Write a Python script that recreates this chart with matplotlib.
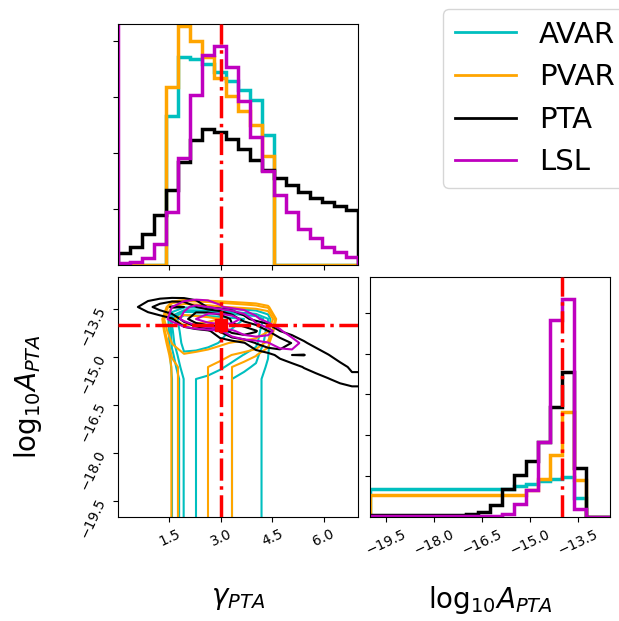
import math
import numpy as np
import matplotlib
matplotlib.use("Agg")
import matplotlib.pyplot as plt
from matplotlib.lines import Line2D

# parameter ranges, binning and injected values
gamma_range = (0.0, 7.0)
loga_range = (-20.0, -12.5)
nbins = 20
gamma_true = 3.0
loga_true = -14.0

labels = ["AVAR", "PVAR", "PTA", "LSL"]
colors = ["c", "orange", "k", "m"]

# 1D marginal histograms (gamma_PTA), one value per bin
gamma_avar = [0, 0, 0, 0, 2.66, 3.72, 3.69, 3.60, 3.46, 3.29, 3.13, 2.95, 2.32, 0, 0, 0, 0, 0, 0, 0]
gamma_pvar = [0, 0, 0, 0, 3.18, 4.27, 4.00, 3.72, 3.35, 3.02, 2.75, 2.50, 1.95, 0, 0, 0, 0, 0, 0, 0]
gamma_pta = [0.22, 0.33, 0.55, 0.89, 1.34, 1.85, 2.23, 2.44, 2.38, 2.26,
             2.08, 1.88, 1.70, 1.55, 1.43, 1.31, 1.20, 1.13, 1.06, 0.99]
gamma_lsl = [0.03, 0.06, 0.13, 0.37, 0.95, 1.92, 3.04, 3.76, 3.92, 3.55,
             2.93, 2.29, 1.68, 1.25, 0.95, 0.65, 0.49, 0.33, 0.24, 0.15]

# 1D marginal histograms (log10 A_PTA)
loga_avar = [0.69] * 12 + [0.75, 0.81, 0.89, 0.93, 0.99, 0.47, 0, 0]
loga_pvar = [0.53] * 13 + [0.65, 0.93, 1.52, 2.58, 0.91, 0, 0]
loga_pta = [0.04] * 8 + [0.08, 0.12, 0.30, 0.68, 1.02, 1.36, 1.83, 2.70, 3.56, 1.20, 0, 0]
loga_lsl = [0.02] * 11 + [0.08, 0.33, 0.67, 1.83, 4.81, 5.34, 0.20, 0, 0]

# ridge of the correlated 2D posteriors: (gamma, log10 A) points and spread in log10 A
pta_ridge_gamma = [1.5, 3.0, 7.0]
pta_ridge_loga = [-13.50, -13.92, -15.80]
pta_width_gamma = [1.5, 3.0, 7.0]
pta_width = [0.11, 0.15, 0.45]
lsl_ridge_gamma = [1.5, 3.0, 5.5]
lsl_ridge_loga = [-13.65, -13.80, -14.85]
lsl_width_gamma = [1.5, 3.0, 5.5]
lsl_width = [0.15, 0.15, 0.18]

gamma_ticks = [1.5, 3.0, 4.5, 6.0]
loga_ticks = [-19.5, -18.0, -16.5, -15.0, -13.5]

g_edges = np.linspace(*gamma_range, nbins + 1)
a_edges = np.linspace(*loga_range, nbins + 1)
g_cent = 0.5 * (g_edges[1:] + g_edges[:-1])
a_cent = 0.5 * (a_edges[1:] + a_edges[:-1])

erf = np.vectorize(math.erf)


def ridge_hist(hg, rg, ra, wg, w):
    # gamma marginal times a gaussian in log10 A centred on the ridge
    m = np.polyval(np.polyfit(rg, ra, len(rg) - 1), g_cent)
    s = np.polyval(np.polyfit(wg, w, len(wg) - 1), g_cent)
    s = np.clip(s, 0.08, None)
    cdf = 0.5 * (1 + erf((a_edges[None, :] - m[:, None]) / (np.sqrt(2) * s[:, None])))
    return np.asarray(hg)[:, None] * np.diff(cdf, axis=1)


def band_hist(hg, ha):
    return np.outer(hg, ha)


def contour2d(ax, H, color):
    levels = 1.0 - np.exp(-0.5 * np.arange(0.5, 2.1, 0.5) ** 2)
    Hflat = np.sort(H.flatten())[::-1]
    sm = np.cumsum(Hflat)
    sm /= sm[-1]
    V = np.empty(len(levels))
    for i, v0 in enumerate(levels):
        try:
            V[i] = Hflat[sm <= v0][-1]
        except IndexError:
            V[i] = Hflat[0]
    V.sort()
    m = np.diff(V) == 0
    while np.any(m):
        V[np.where(m)[0][0]] *= 1.0 - 1e-4
        m = np.diff(V) == 0
    V *= 1.0 + 1e-6

    # pad the grid the way corner does so contours run off the edges
    H2 = H.min() + np.zeros((H.shape[0] + 4, H.shape[1] + 4))
    H2[2:-2, 2:-2] = H
    H2[2:-2, 1] = H[:, 0]
    H2[2:-2, -2] = H[:, -1]
    H2[1, 2:-2] = H[0]
    H2[-2, 2:-2] = H[-1]
    H2[1, 1] = H[0, 0]
    H2[1, -2] = H[0, -1]
    H2[-2, 1] = H[-1, 0]
    H2[-2, -2] = H[-1, -1]
    dg = g_cent[1] - g_cent[0]
    da = a_cent[1] - a_cent[0]
    X2 = np.concatenate([g_cent[0] + np.array([-2, -1]) * dg, g_cent, g_cent[-1] + np.array([1, 2]) * dg])
    Y2 = np.concatenate([a_cent[0] + np.array([-2, -1]) * da, a_cent, a_cent[-1] + np.array([1, 2]) * da])
    ax.contour(X2, Y2, H2.T, V, colors=color, linewidths=1.5)


hists_2d = [
    band_hist(gamma_avar, loga_avar),
    band_hist(gamma_pvar, loga_pvar),
    ridge_hist(gamma_pta, pta_ridge_gamma, pta_ridge_loga, pta_width_gamma, pta_width),
    ridge_hist(gamma_lsl, lsl_ridge_gamma, lsl_ridge_loga, lsl_width_gamma, lsl_width),
]
gamma_hists = [gamma_avar, gamma_pvar, gamma_pta, gamma_lsl]
loga_hists = [loga_avar, loga_pvar, loga_pta, loga_lsl]

fig = plt.figure(figsize=(6.19, 6.21), dpi=100)
W, Hpx = 619, 621
ax_g = fig.add_axes([118 / W, (Hpx - 265) / Hpx, 240 / W, 241 / Hpx])
ax_2d = fig.add_axes([118 / W, (Hpx - 517) / Hpx, 240 / W, 240 / Hpx])
ax_a = fig.add_axes([370 / W, (Hpx - 517) / Hpx, 240 / W, 240 / Hpx])

for hg, ha, H, c in zip(gamma_hists, loga_hists, hists_2d, colors):
    ax_g.stairs(hg, g_edges, color=c, lw=2.5)
    ax_a.stairs(ha, a_edges, color=c, lw=2.5)
    contour2d(ax_2d, H, c)

# LSL step edge running up the lower gamma bound
ax_g.axvline(gamma_range[0], color="m", lw=2.5)

truth = dict(color="r", ls="-.", lw=2.5, zorder=5)
ax_g.axvline(gamma_true, **truth)
ax_2d.axvline(gamma_true, **truth)
ax_2d.axhline(loga_true, **truth)
ax_2d.plot(gamma_true, loga_true, "s", color="r", ms=8, zorder=6)
ax_a.axvline(loga_true, **truth)

ax_g.set_xlim(*gamma_range)
ax_g.set_ylim(0, 1.1 * max(gamma_lsl))
ax_g.set_xticks(gamma_ticks)
ax_g.set_xticklabels([])
ax_g.set_yticks([1, 2, 3, 4])
ax_g.set_yticklabels([])

ax_a.set_xlim(*loga_range)
ax_a.set_ylim(0, 1.1 * max(loga_lsl))
ax_a.set_xticks(loga_ticks)
ax_a.set_yticks([1, 2, 3, 4, 5])
ax_a.set_yticklabels([])

ax_2d.set_xlim(*gamma_range)
ax_2d.set_ylim(*loga_range)
ax_2d.set_xticks(gamma_ticks)
ax_2d.set_yticks(loga_ticks)

for ax in (ax_2d, ax_a):
    for t in ax.get_xticklabels():
        t.set_rotation(25)
    ax.tick_params(labelsize=10)
for t in ax_2d.get_yticklabels():
    t.set_rotation(65)

ax_2d.set_xlabel(r"$\gamma_{PTA}$", fontsize=20)
ax_2d.xaxis.set_label_coords(0.5, -0.28)
ax_2d.set_ylabel(r"$\mathrm{log}_{10}A_{PTA}$", fontsize=20)
ax_2d.yaxis.set_label_coords(-0.31, 0.5)
ax_a.set_xlabel(r"$\mathrm{log}_{10}A_{PTA}$", fontsize=20)
ax_a.xaxis.set_label_coords(0.5, -0.28)

handles = [Line2D([], [], color=c, lw=2) for c in colors]
fig.legend(handles, labels, loc="upper left", bbox_to_anchor=(443 / W, 1 - 9 / Hpx),
           fontsize=21, handlelength=2.1, borderaxespad=0)

fig.savefig("out.png", dpi=100)
